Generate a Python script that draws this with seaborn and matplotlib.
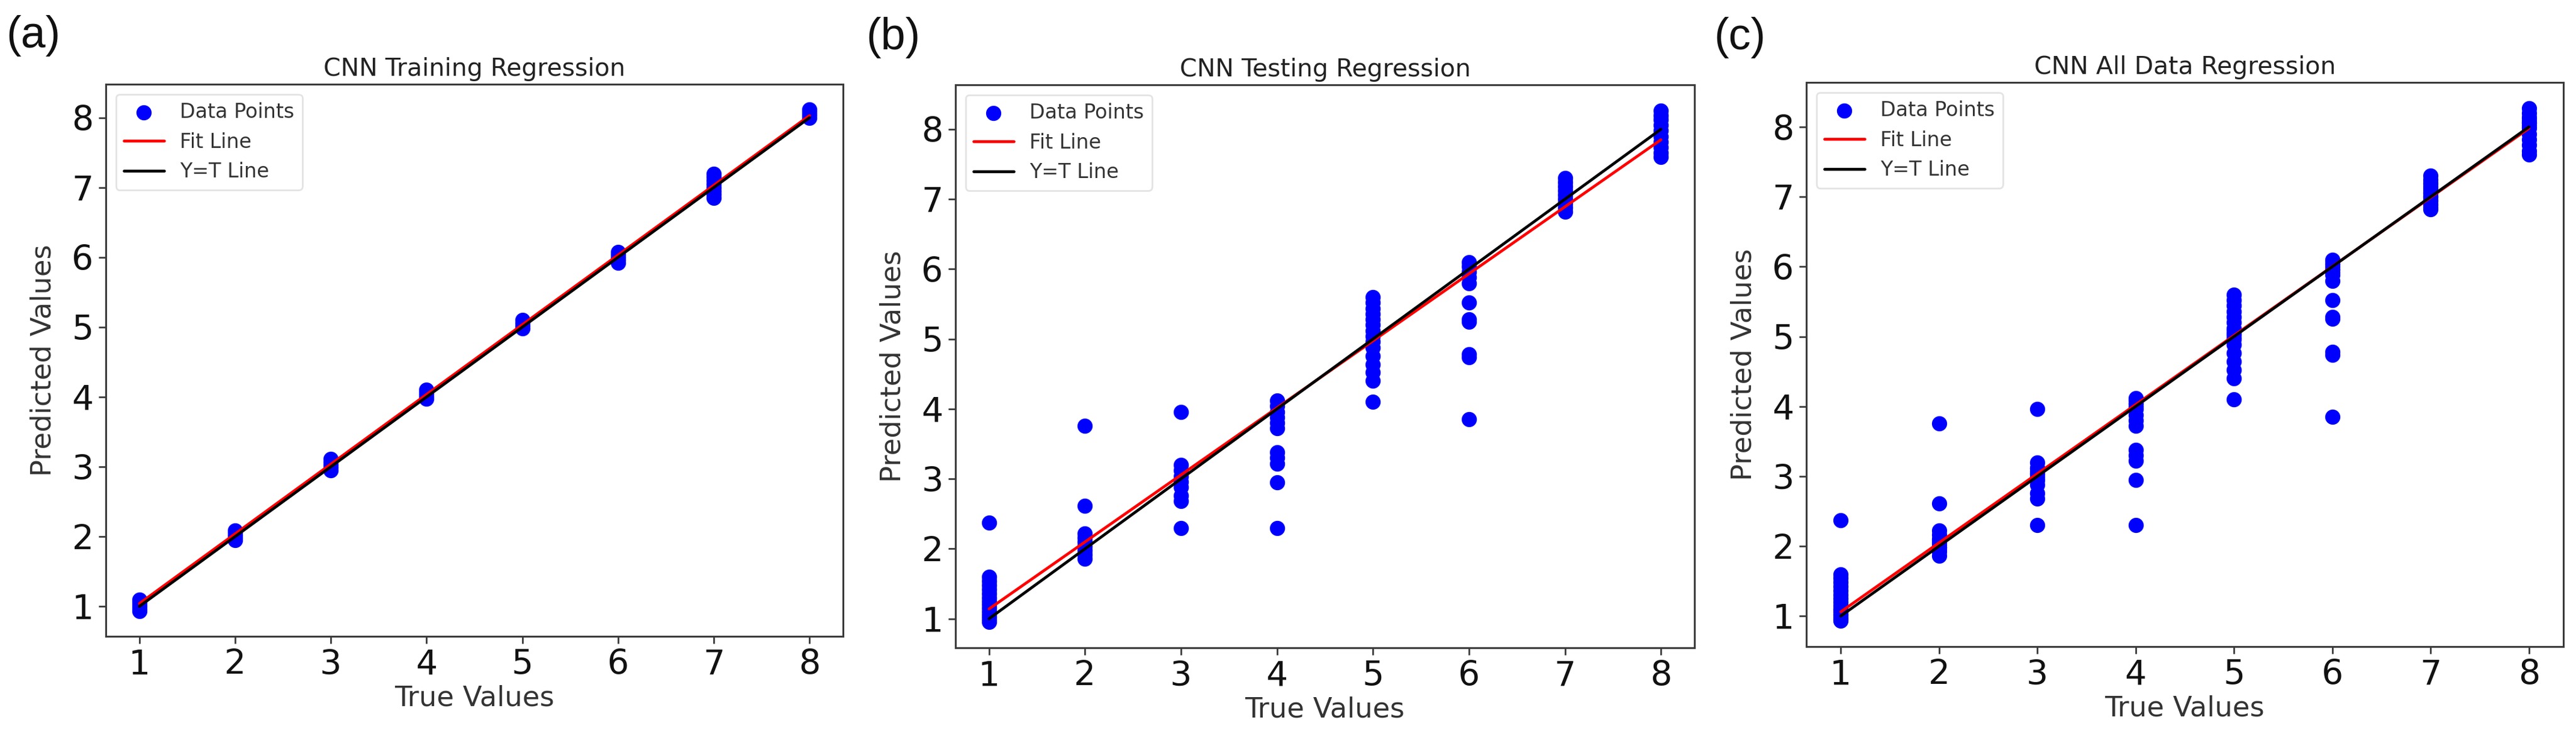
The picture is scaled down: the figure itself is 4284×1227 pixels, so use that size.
import numpy as np
import pandas as pd
import matplotlib
matplotlib.use("Agg")
import matplotlib.pyplot as plt
import seaborn as sns

# ---------------- data ----------------
train_true = [1]*7 + [2]*5 + [3]*5 + [4]*5 + [5]*4 + [6]*5 + [7]*8 + [8]*5
train_pred = [0.93, 0.96, 0.99, 1.02, 1.05, 1.08, 1.10,
              1.95, 1.98, 2.02, 2.06, 2.09,
              2.95, 2.99, 3.03, 3.07, 3.11,
              3.97, 4.00, 4.04, 4.08, 4.10,
              4.98, 5.02, 5.06, 5.10,
              5.92, 5.96, 6.00, 6.04, 6.08,
              6.85, 6.90, 6.95, 7.00, 7.05, 7.10, 7.15, 7.20,
              8.00, 8.03, 8.06, 8.09, 8.12]

test_true = [1]*15 + [2]*9 + [3]*9 + [4]*11 + [5]*15 + [6]*11 + [7]*9 + [8]*10
test_pred = [0.95, 0.98, 1.02, 1.06, 1.10, 1.15, 1.20, 1.25, 1.30, 1.36, 1.42, 1.48, 1.54, 1.60, 2.37,
             1.86, 1.92, 1.98, 2.04, 2.10, 2.16, 2.22, 2.61, 3.76,
             2.30, 2.68, 2.76, 2.88, 2.96, 3.04, 3.12, 3.20, 3.96,
             2.30, 2.95, 3.22, 3.30, 3.38, 3.72, 3.80, 3.88, 3.96, 4.04, 4.12,
             4.10, 4.40, 4.52, 4.64, 4.76, 4.88, 4.96, 5.04, 5.12, 5.20, 5.28, 5.36, 5.44, 5.52, 5.60,
             3.85, 4.74, 4.78, 5.25, 5.28, 5.52, 5.80, 5.88, 5.96, 6.04, 6.10,
             6.82, 6.88, 6.94, 7.00, 7.06, 7.12, 7.18, 7.24, 7.30,
             7.60, 7.66, 7.74, 7.82, 7.90, 7.98, 8.06, 8.14, 8.20, 8.27]

# all data = training + testing
all_true = train_true + test_true
all_pred = train_pred + test_pred

# line end points (x = 1 and x = 8)
line_x = [1, 8]
fit_train = [1.04, 8.03]
fit_test = [1.14, 7.85]
fit_all = [1.06, 7.98]
ident_y = [1, 8]

titles = ["CNN Training Regression", "CNN Testing Regression", "CNN All Data Regression"]
panel_tags = ["(a)", "(b)", "(c)"]
ticks = [1, 2, 3, 4, 5, 6, 7, 8]

# ---------------- figure ----------------
sns.set_style("ticks")
plt.rcParams["font.family"] = ["DejaVu Sans"]

W, H = 4284, 1227
fig = plt.figure(figsize=(W / 100, H / 100), dpi=100)

# axes boxes in pixels: left, right, top, bottom
boxes = [(176, 1402, 140, 1058), (1589, 2818, 141, 1077), (3004, 4263, 137, 1075)]
tag_pos = [(10, 25), (1440, 28), (2850, 28)]

datasets = [(train_true, train_pred, fit_train),
            (test_true, test_pred, fit_test),
            (all_true, all_pred, fit_all)]

spine_col = "#3a3a3a"
for i, ((tx, py, fit), (l, r, t, b)) in enumerate(zip(datasets, boxes)):
    ax = fig.add_axes([l / W, 1 - b / H, (r - l) / W, (b - t) / H])
    df = pd.DataFrame({"True": tx, "Pred": py})
    sns.scatterplot(data=df, x="True", y="Pred", ax=ax, color="#0000ff", s=330,
                    linewidth=0, label="Data Points", zorder=2)
    sns.lineplot(x=line_x, y=fit, ax=ax, color="red", lw=3.4, label="Fit Line",
                 estimator=None, zorder=3)
    sns.lineplot(x=line_x, y=ident_y, ax=ax, color="black", lw=3.4, label="Y=T Line",
                 estimator=None, zorder=4)
    ax.set_xticks(ticks)
    ax.set_yticks(ticks)
    ax.tick_params(labelsize=41, length=8.6, width=2.0, pad=6, color=spine_col,
                   labelcolor="#111111")
    for sp in ax.spines.values():
        sp.set_visible(True)
        sp.set_linewidth(2.2)
        sp.set_color(spine_col)
    ax.set_xlabel("True Values", fontsize=33.5, color="#333333", labelpad=4)
    ax.set_ylabel("Predicted Values", fontsize=33.5, color="#333333", labelpad=18)
    ax.set_title(titles[i], fontsize=29.5, color="#222222", pad=10)
    leg = ax.legend(loc="upper left", fontsize=24, frameon=True, fancybox=True,
                    framealpha=0.8, borderaxespad=0.5)
    leg.get_frame().set_linewidth(2.0)
    leg.get_frame().set_edgecolor("#dddddd")
    for txt in leg.get_texts():
        txt.set_color("#333333")
    fig.text(tag_pos[i][0] / W, 1 - tag_pos[i][1] / H, panel_tags[i], fontsize=53,
             family=["Liberation Sans", "DejaVu Sans"], va="top", ha="left", color="#111111")

fig.savefig("out.png", dpi=100, facecolor="white")
